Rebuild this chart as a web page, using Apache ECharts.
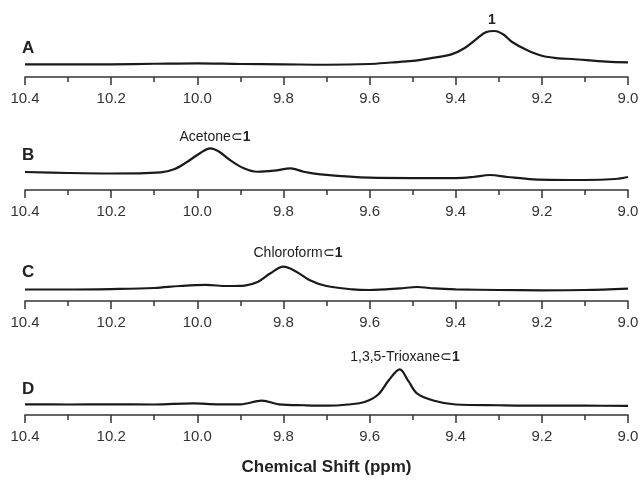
<!DOCTYPE html>
<html>
<head>
<meta charset="utf-8">
<script src="https://cdn.jsdelivr.net/npm/echarts@6/dist/echarts.min.js"></script>
<style>
  html, body { margin: 0; padding: 0; background: #fff; }
  #main { width: 642px; height: 480px; }
</style>
</head>
<body>
<div id="main"></div>
<script>
var chart = echarts.init(document.getElementById('main'));

// 化学位移 (ppm) 和 强度 (任意单位)
var shiftA = [10.40, 10.30, 10.20, 10.10, 10.00, 9.90, 9.80, 9.70, 9.60, 9.55, 9.50, 9.46, 9.41, 9.38, 9.35, 9.33, 9.31, 9.29, 9.27, 9.235, 9.20, 9.16, 9.13, 9.05, 9.00];
var intA   = [17.9, 17.9, 18.1, 18.9, 19.6, 18.6, 18.1, 17.5, 18.6, 20.7, 23.0, 26.7, 32.4, 41.0, 55.3, 63.9, 65.7, 61.0, 50.4, 38.6, 30.4, 26.7, 25.7, 22.0, 21.0];

var shiftB = [10.40, 10.30, 10.20, 10.085, 10.054, 10.023, 9.992, 9.970, 9.949, 9.922, 9.892, 9.861, 9.822, 9.783, 9.753, 9.714, 9.60, 9.50, 9.40, 9.36, 9.32, 9.28, 9.22, 9.10, 9.03, 9.00];
var intB   = [25.7, 24.3, 23.6, 25.3, 29.6, 40.4, 53.3, 59.6, 54.7, 41.9, 31.0, 26.1, 27.6, 31.0, 26.1, 22.4, 17.6, 17.1, 17.1, 18.6, 21.4, 18.6, 15.3, 14.3, 15.7, 18.6];

var shiftC = [10.40, 10.30, 10.20, 10.10, 10.04, 9.98, 9.93, 9.89, 9.86, 9.83, 9.80, 9.77, 9.74, 9.70, 9.64, 9.60, 9.53, 9.49, 9.45, 9.40, 9.30, 9.20, 9.10, 9.00];
var intC   = [16.4, 16.4, 17.1, 18.6, 21.4, 22.9, 21.4, 22.1, 27.1, 39.6, 49.0, 41.9, 30.0, 21.4, 16.7, 15.7, 17.9, 20.0, 17.9, 16.7, 15.7, 15.3, 15.7, 17.7];

var shiftD = [10.40, 10.30, 10.20, 10.10, 10.01, 9.95, 9.90, 9.85, 9.81, 9.75, 9.70, 9.65, 9.61, 9.58, 9.555, 9.53, 9.51, 9.49, 9.45, 9.40, 9.30, 9.20, 9.10, 9.00];
var intD   = [15.3, 15.0, 15.3, 15.0, 16.7, 15.3, 15.3, 20.4, 15.3, 13.9, 13.3, 15.0, 19.0, 29.3, 50.0, 65.3, 48.6, 31.0, 20.4, 15.0, 13.9, 13.3, 13.3, 12.9];

var panels = ['A', 'B', 'C', 'D'];
var peakLabels = [
    '{b|1}',
    '{n|Acetone⊂}{b|1}',
    '{n|Chloroform⊂}{b|1}',
    '{n|1,3,5-Trioxane⊂}{b|1}'
];
var shifts = [shiftA, shiftB, shiftC, shiftD];
var ints = [intA, intB, intC, intD];

var axisY = [77, 190, 301, 415];   // 每个坐标轴的位置
var gridH = 70;

function pairs(xs, ys) {
    var res = [];
    for (var i = 0; i < xs.length; i++) {
        res.push([xs[i], ys[i]]);
    }
    return res;
}

var grids = [], xAxes = [], yAxes = [], series = [], graphics = [];
var letterY = [50, 157, 274, 391];
var peakPos = [[492, 20], [215, 137], [298, 253], [405, 357]];

for (var i = 0; i < 4; i++) {
    grids.push({left: 25, right: 14, top: axisY[i] - gridH, height: gridH});
    xAxes.push({
        type: 'value',
        gridIndex: i,
        min: 9.0,
        max: 10.4,
        interval: 0.2,
        inverse: true,
        splitLine: {show: false},
        axisLine: {onZero: false, lineStyle: {color: '#333', width: 1.5}},
        axisTick: {length: 8, lineStyle: {color: '#333', width: 1.5}},
        minorTick: {show: true, splitNumber: 2, length: 5, lineStyle: {color: '#333', width: 1.5}},
        axisLabel: {
            color: '#333',
            fontSize: 15,
            fontFamily: 'Liberation Sans',
            margin: 14,
            formatter: function (v) { return v.toFixed(1); }
        },
        name: i === 3 ? 'Chemical Shift (ppm)' : '',
        nameLocation: 'middle',
        nameGap: 44,
        nameTextStyle: {color: '#222', fontSize: 17, fontWeight: 'bold', fontFamily: 'Liberation Sans'}
    });
    yAxes.push({type: 'value', gridIndex: i, min: 0, max: 100, show: false});
    series.push({
        type: 'line',
        xAxisIndex: i,
        yAxisIndex: i,
        data: pairs(shifts[i], ints[i]),
        smooth: 0.35,
        showSymbol: false,
        lineStyle: {color: '#1a1a1a', width: 2.2},
        animation: false
    });
    graphics.push({
        type: 'text',
        left: 22,
        top: letterY[i] - 10,
        style: {text: panels[i], font: 'bold 17px "Liberation Sans"', fill: '#222'}
    });
    graphics.push({
        type: 'text',
        x: peakPos[i][0],
        y: peakPos[i][1],
        style: {
            text: peakLabels[i],
            align: 'center',
            verticalAlign: 'middle',
            rich: {
                n: {font: '14px "Liberation Sans"', fill: '#222'},
                b: {font: 'bold 14px "Liberation Sans"', fill: '#222'}
            }
        }
    });
}

var option = {
    backgroundColor: '#fff',
    animation: false,
    grid: grids,
    xAxis: xAxes,
    yAxis: yAxes,
    series: series,
    graphic: graphics
};

chart.setOption(option);
</script>
</body>
</html>
